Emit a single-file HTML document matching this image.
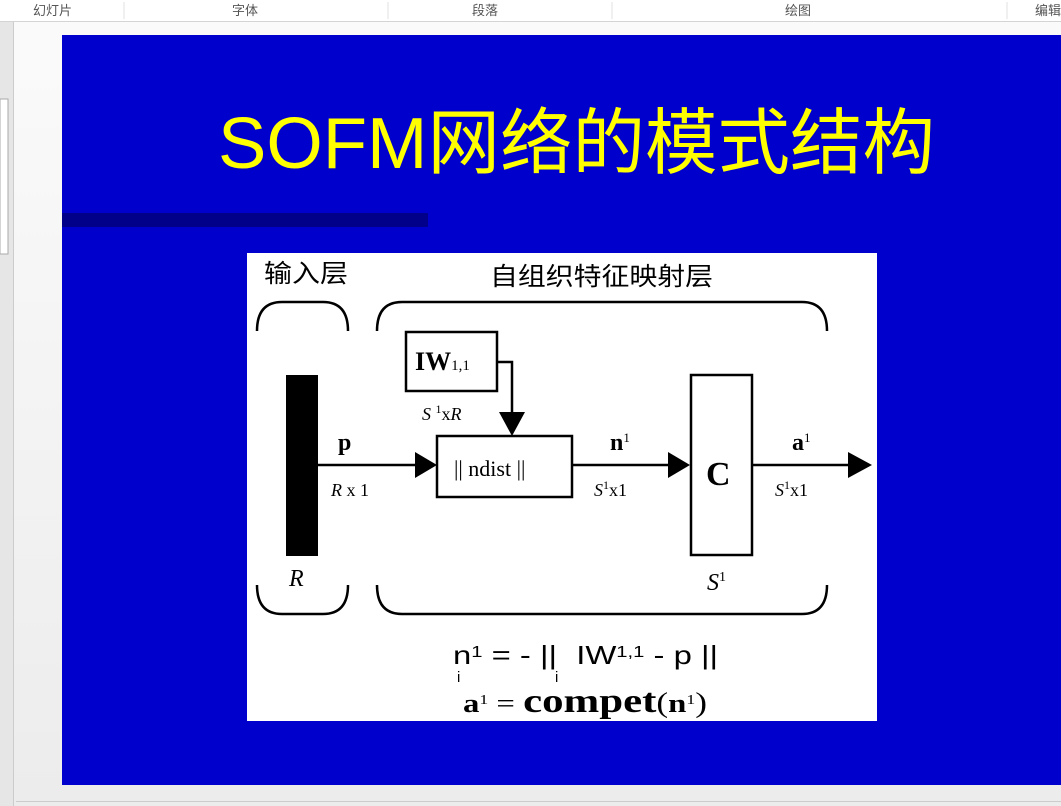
<!DOCTYPE html>
<html><head><meta charset="utf-8"><style>
body{margin:0;width:1061px;height:806px;overflow:hidden;background:#efefef;font-family:"Liberation Sans","Noto Sans CJK SC",sans-serif}
</style></head><body>
<svg width="1061" height="806" xmlns="http://www.w3.org/2000/svg" style="position:absolute;left:0;top:0">
<defs><linearGradient id="g" x1="0" y1="0" x2="0" y2="1"><stop offset="0" stop-color="#fbfbfb"/><stop offset="1" stop-color="#ececec"/></linearGradient></defs>
<rect x="0" y="0" width="1061" height="806" fill="url(#g)"/>
<rect x="0" y="0" width="1061" height="21" fill="#fff"/>
<line x1="0" y1="21.5" x2="1061" y2="21.5" stroke="#d4d4d4"/>
<g fill="#555" font-size="13" font-family="'Liberation Sans','Noto Sans CJK SC',sans-serif">
<text x="33" y="15">幻灯片</text><text x="232" y="15">字体</text><text x="472" y="15">段落</text><text x="785" y="15">绘图</text><text x="1035" y="15">编辑</text></g>
<g stroke="#e0e0e0"><line x1="124" y1="2" x2="124" y2="19"/><line x1="388" y1="2" x2="388" y2="19"/><line x1="612" y1="2" x2="612" y2="19"/><line x1="1007" y1="2" x2="1007" y2="19"/></g>
<rect x="0" y="22" width="13" height="784" fill="#e6e6e6"/>
<line x1="13.5" y1="22" x2="13.5" y2="806" stroke="#ccc"/>
<rect x="0" y="99" width="8" height="155" fill="#fff" stroke="#aaa"/>
<line x1="16" y1="801.5" x2="1061" y2="801.5" stroke="#ccc"/>
<rect x="62" y="35" width="999" height="750" fill="#0000CC"/>
<rect x="62" y="213" width="366" height="14" fill="#00008a"/>
<text x="218" y="168" font-size="72" fill="#ffff00" textLength="717" lengthAdjust="spacingAndGlyphs">SOFM网络的模式结构</text>
<rect x="247" y="253" width="630" height="468" fill="#fff"/>
<g font-family="'Liberation Sans','Noto Sans CJK SC',sans-serif" font-size="25" fill="#000">
<text x="264" y="282" textLength="84" lengthAdjust="spacingAndGlyphs">输入层</text><text x="490" y="285" textLength="223" lengthAdjust="spacingAndGlyphs">自组织特征映射层</text></g>
<g fill="none" stroke="#000" stroke-width="2.5">
<path d="M257 331 Q257 302 282 302 L323 302 Q348 302 348 331"/>
<path d="M377 331 Q377 302 402 302 L802 302 Q827 302 827 331"/>
<path d="M257 585 Q257 614 282 614 L323 614 Q348 614 348 585"/>
<path d="M377 585 Q377 614 402 614 L802 614 Q827 614 827 585"/>
<rect x="437" y="436" width="135" height="61"/>
<rect x="406" y="332" width="91" height="59"/>
<rect x="691" y="375" width="61" height="180"/>
<path d="M318 465 H420 M572 465 H672 M752 465 H852 M497 362 H512 V416"/>
</g>
<rect x="286" y="375" width="32" height="181" fill="#000"/>
<g fill="#000">
<path d="M415 452 L437 465 L415 478Z"/><path d="M668 452 L690 465 L668 478Z"/><path d="M848 452 L872 465 L848 478Z"/><path d="M499 412 L525 412 L512 436Z"/>
</g>
<g font-family="'Liberation Serif',serif" fill="#000">
<text x="338" y="450" font-size="24" font-weight="bold">p</text>
<text x="610" y="450" font-size="24" font-weight="bold">n<tspan font-size="13" dy="-8" font-weight="normal">1</tspan></text>
<text x="792" y="450" font-size="24" font-weight="bold">a<tspan font-size="13" dy="-8" font-weight="normal">1</tspan></text>
<text x="415" y="370" font-size="26" font-weight="bold">IW<tspan font-size="15" font-weight="normal">1,1</tspan></text>
<text x="706" y="485" font-size="34" font-weight="bold">C</text>
<text x="454" y="476" font-size="22">|| ndist ||</text>
<text x="331" y="496" font-size="18"><tspan font-style="italic">R</tspan> x 1</text>
<text x="422" y="420" font-size="18"><tspan font-style="italic">S</tspan> <tspan font-size="12" dy="-7">1</tspan><tspan dy="7">x</tspan><tspan font-style="italic">R</tspan></text>
<text x="594" y="496" font-size="18"><tspan font-style="italic">S</tspan><tspan font-size="12" dy="-7">1</tspan><tspan dy="7">x1</tspan></text>
<text x="775" y="496" font-size="18"><tspan font-style="italic">S</tspan><tspan font-size="12" dy="-7">1</tspan><tspan dy="7">x1</tspan></text>
<text x="289" y="586" font-size="24" font-style="italic">R</text>
<text x="707" y="590" font-size="24"><tspan font-style="italic">S</tspan><tspan font-size="14" dy="-9">1</tspan></text>
<text x="463" y="712" font-size="26" font-weight="bold" textLength="244" lengthAdjust="spacingAndGlyphs">a<tspan font-size="14" dy="-8" font-weight="normal">1</tspan><tspan dy="8" font-weight="normal"> = </tspan><tspan font-size="34">compet</tspan><tspan font-weight="normal" font-size="28">(</tspan>n<tspan font-size="14" dy="-8" font-weight="normal">1</tspan><tspan dy="8" font-weight="normal" font-size="28">)</tspan></text>
</g>
<g font-family="'Liberation Sans',sans-serif" fill="#000" font-size="26">
<text x="453" y="664" textLength="265" lengthAdjust="spacingAndGlyphs">n<tspan font-size="16" dy="-7">1</tspan><tspan dy="7"> = - || </tspan><tspan dx="8">IW</tspan><tspan font-size="16" dy="-7">1,1</tspan><tspan dy="7"> - p ||</tspan></text>
<text x="457" y="682" font-size="15">i</text><text x="555" y="682" font-size="15">i</text>
</g>
</svg>
</body></html>
